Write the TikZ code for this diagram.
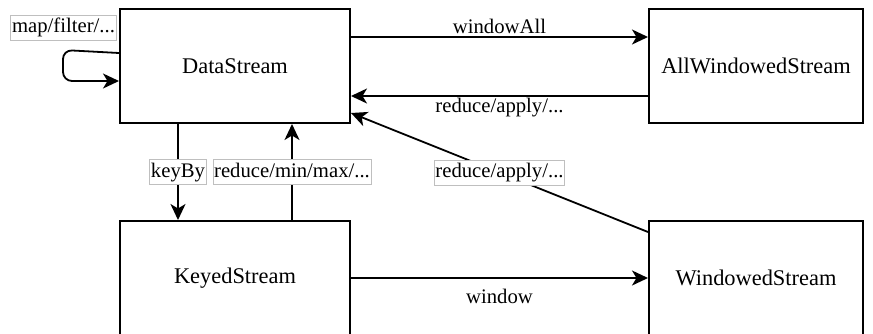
\documentclass[tikz,border=0pt]{standalone}
\usepackage{fontspec}
\setmainfont{Liberation Serif}
\usetikzlibrary{arrows.meta}
\begin{document}
\begin{tikzpicture}[x=1pt,y=-1pt,
  box/.style={draw, line width=2pt, minimum width=#1, minimum height=114pt, inner sep=0pt, font=\fontsize{22.4}{26}\selectfont},
  conn/.style={line width=1.8pt, -{Stealth[length=16pt,width=15pt,inset=4.5pt]}},
  tag/.style={draw=black!25, fill=white, line width=0.8pt, inner xsep=1.2pt, inner ysep=0pt, text height=15pt, text depth=5pt, minimum height=25pt, font=\fontsize{20.7}{24}\selectfont},
  lab/.style={font=\fontsize{20.7}{24}\selectfont, inner sep=0pt, anchor=base}]
\useasboundingbox (0,0) rectangle (873,333);
\clip (0,0) rectangle (873,333);
\node[box=230pt] (ds) at (235,66) {DataStream};
\node[box=214pt] (aws) at (756,66) {AllWindowedStream};
\node[box=230pt] (ks) at (235,278) {KeyedStream};
\node[box=214pt] (ws) at (756,278) {WindowedStream};
\draw[conn] ([yshift=29pt]ds.east) -- node[lab, yshift=4pt]{windowAll} ([yshift=29pt]aws.west);
\draw[conn] ([yshift=-30pt]aws.west) -- node[lab, yshift=-16pt]{reduce/apply/...} ([yshift=-30pt]ds.east);
\draw[conn] ([yshift=46pt]ws.west) -- node[tag]{reduce/apply/...} ([yshift=-47pt]ds.east);
\draw[conn] ([xshift=-57pt]ds.south) -- node[tag]{keyBy} ([xshift=-57pt]ks.north);
\draw[conn] ([xshift=57pt]ks.north) -- node[tag]{reduce/min/max/...} ([xshift=57pt]ds.south);
\draw[conn] (ks.east) -- node[lab, yshift=-25pt]{window} (ws.west);
\coordinate (lp1) at (63,50);
\coordinate (lp2) at (63,81);
\draw[conn, rounded corners=9pt] ([yshift=13pt]ds.west) -- (lp1) -- (lp2) -- ([yshift=-15pt]ds.west);
\node[tag] (mf) at (63.5,27.5) {map/filter/...};
\end{tikzpicture}
\end{document}
